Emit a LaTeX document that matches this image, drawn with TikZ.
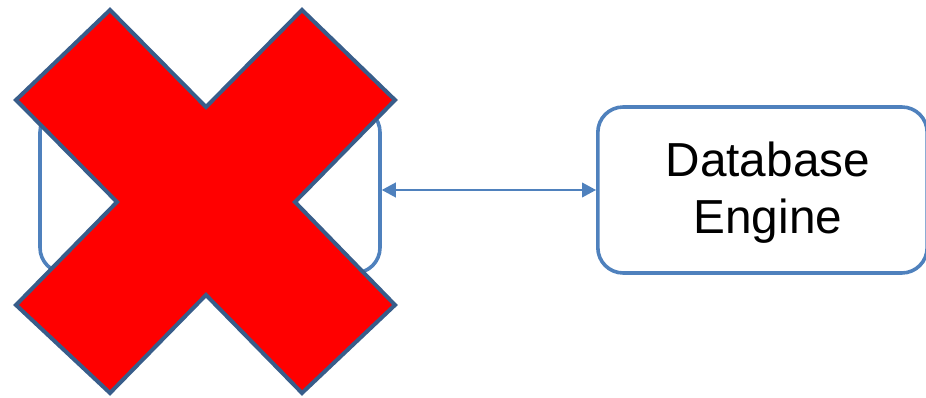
\documentclass[tikz,border=0pt]{standalone}
\usepackage{fontspec}
\setmainfont{Liberation Sans}
\usepackage{xcolor}
\usepackage{tikz}
\usetikzlibrary{arrows.meta,positioning,calc}
\definecolor{boxblue}{RGB}{79,129,189}
\definecolor{crossedge}{RGB}{56,93,138}
\definecolor{crossred}{RGB}{255,0,0}
\tikzset{
  >={Triangle[length=10.5pt, width=11pt]},
  block/.style={draw=boxblue, line width=2.7pt, rectangle, rounded corners=19pt, minimum height=124.5pt, minimum width=255pt},
  boxtext/.style={align=center, font=\fontsize{35.8}{43}\selectfont},
  conn/.style={<->, draw=boxblue, line width=1.4pt},
  crossmark/.style={fill=crossred, draw=crossedge, line width=3pt, line join=miter},
}

\begin{document}
\begin{tikzpicture}[x=0.75pt, y=-0.75pt]
    \useasboundingbox (0,0) rectangle (926,398);
    % the box that is crossed out has no text
    \node[block] (client) at (210,190) {};
    \node[block, minimum width=247pt,
      label={[boxtext, xshift=4pt, yshift=-2pt]center:Database\\Engine}] (engine) at (762.5,190) {};
    \draw[conn] (client.east) -- (engine.west);

    % red cross drawn over the left box
    \coordinate (xc) at (206,202);
    \draw[crossmark, shift={(xc)}]
      (-96,-192) -- (0,-95) -- (96,-192) -- (189,-102) -- (89,0) -- (189,103)
      -- (96,191) -- (0,93) -- (-96,191) -- (-190,103) -- (-89,0) -- (-190,-102) -- cycle;

\end{tikzpicture}
\end{document}
